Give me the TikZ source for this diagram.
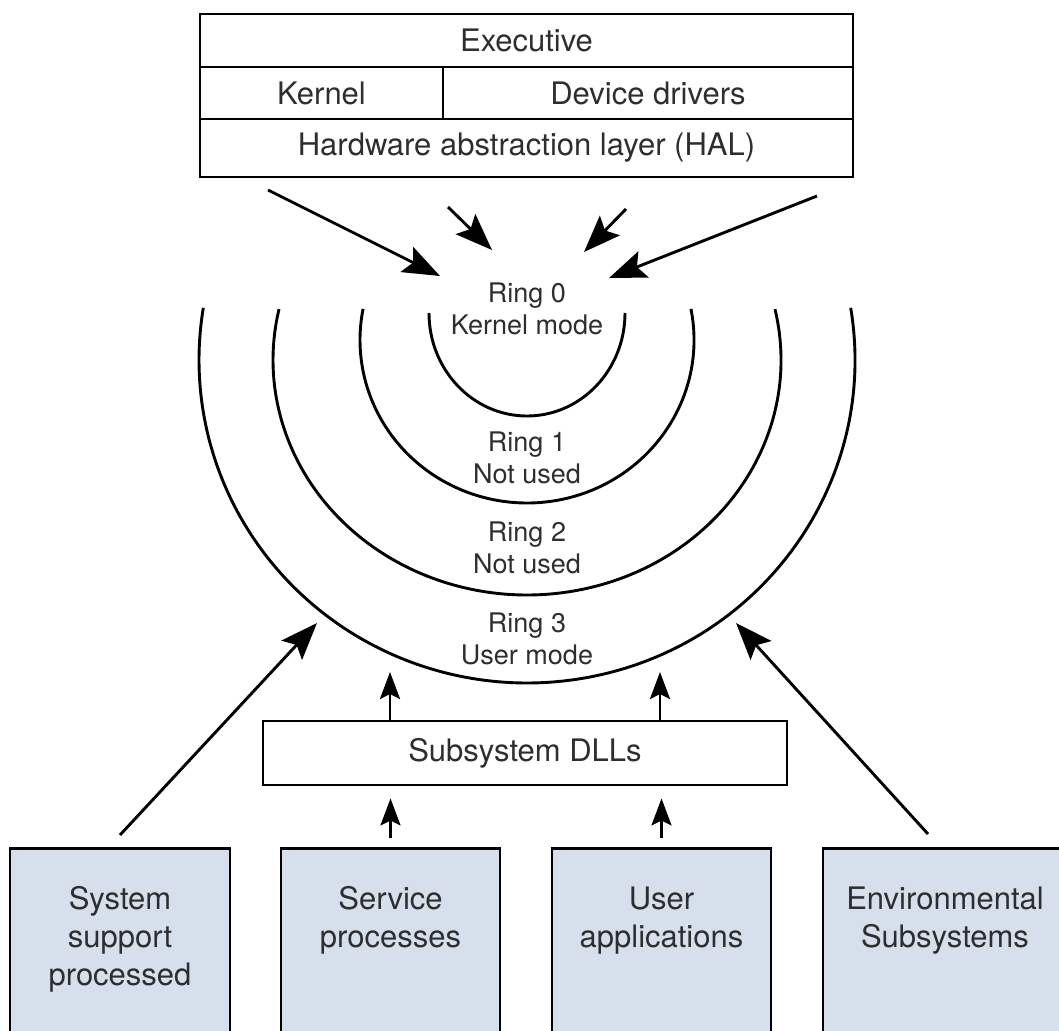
\documentclass[tikz,border=0pt]{standalone}
\usepackage{fontspec}
\setmainfont{TeX Gyre Heros}
\usetikzlibrary{arrows.meta,positioning}
\definecolor{procfill}{RGB}{214,224,236}
\begin{document}
\begin{tikzpicture}[x=1pt,y=-1pt,line width=2.9pt,every node/.style={text=black!82},
 big/.style={-{Stealth[length=37pt,width=28pt,inset=7pt]}},
 small/.style={-{Stealth[length=27pt,width=20pt,inset=5pt]}},
 cell/.style={draw,inner sep=0pt,font=\fontsize{31}{36}\selectfont},
 proc/.style={draw,fill=procfill,minimum height=230pt,anchor=north,inner sep=0pt},
 proctext/.style={inner sep=0pt,font=\fontsize{31}{38}\selectfont,align=center},
 ringtext/.style={inner sep=0pt,font=\fontsize{27}{32}\selectfont,align=center}]
 \useasboundingbox (0,0) rectangle (1059,1030);
 \clip (0,0) rectangle (1059,1030);
 \node[cell,minimum width=653pt,minimum height=53pt] (exec) at (526.5,40.5) {Executive};
 \node[cell,minimum width=243pt,minimum height=52pt] (kernel) at (321.5,93) {Kernel};
 \node[cell,minimum width=410pt,minimum height=52pt] (drivers) at (648,93) {Device drivers};
 \node[cell,minimum width=653pt,minimum height=58pt] (hal) at (526.5,148) {Hardware abstraction layer (HAL)};
 \foreach \cy/\rx/\ry/\a in {313/98/103/0, 340/167/163/11, 360/254/235/12.5, 360/328/323/9.3}
  \draw (527,\cy) ++({-\a}:{\rx} and {\ry}) arc[start angle=-\a,end angle=180+\a,x radius=\rx,y radius=\ry];
 \node[ringtext] (ring0) at (527,309) {Ring 0\\Kernel mode};
 \node[ringtext] (ring1) at (527,457.5) {Ring 1\\Not used};
 \node[ringtext] (ring2) at (527,547.5) {Ring 2\\Not used};
 \node[ringtext] (ring3) at (527,638.5) {Ring 3\\User mode};
 \node[cell,minimum width=524pt,minimum height=64pt] (dll) at (525,753) {Subsystem DLLs};
 \node[proc,minimum width=220pt] (sys) at (120,847) {};
 \node[proc,minimum width=219pt] (svc) at (390.5,847) {};
 \node[proc,minimum width=219pt] (usr) at (661.5,847) {};
 \node[proc,minimum width=244pt] (env) at (945,847) {};
 \node[proctext,below=38pt of sys.north] (systxt) {System\\support\\processed};
 \node[proctext,below=38pt of svc.north] (svctxt) {Service\\processes};
 \node[proctext,below=38pt of usr.north] (usrtxt) {User\\applications};
 \node[proctext,below=38pt of env.north] (envtxt) {Environmental\\Subsystems};
 \coordinate (k1) at (268,190); \coordinate (k1t) at (440,276);
 \coordinate (k2) at (448,207); \coordinate (k2t) at (492,250);
 \coordinate (k3) at (626,209); \coordinate (k3t) at (584,252);
 \coordinate (k4) at (817,196); \coordinate (k4t) at (609,278);
 \coordinate (u1) at (317,623); \coordinate (u4) at (736,623);
 \coordinate (d1) at (390,672); \coordinate (d2) at (660,672);
 \draw[big] (k1) -- (k1t);
 \draw[big] (k2) -- (k2t);
 \draw[big] (k3) -- (k3t);
 \draw[big] (k4) -- (k4t);
 \draw[big] ([yshift=12pt]sys.north) -- (u1);
 \draw[big] ([xshift=-17pt,yshift=13pt]env.north) -- (u4);
 \draw[small] (dll.north -| d1) -- (d1);
 \draw[small] (dll.north -| d2) -- (d2);
 \draw[small] ([yshift=9pt]svc.north) -- ([yshift=-12pt]svc.north |- dll.south);
 \draw[small] ([yshift=9pt]usr.north) -- ([yshift=-12pt]usr.north |- dll.south);
\end{tikzpicture}
\end{document}
